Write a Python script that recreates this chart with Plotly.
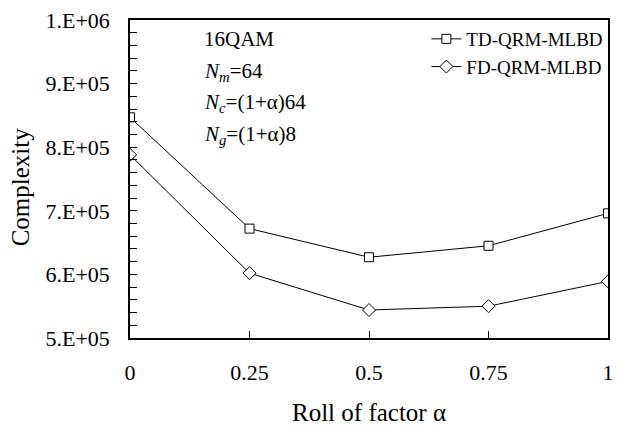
import plotly.graph_objects as go

alpha = [0, 0.25, 0.5, 0.75, 1]
x_ticktext = ["0", "0.25", "0.5", "0.75", "1"]
td_qrm = [847000, 672000, 627000, 645000, 696000]
fd_qrm = [788000, 602000, 544000, 550000, 589000]
y_tickvals = [500000, 600000, 700000, 800000, 900000, 1000000]
y_ticktext = ["5.E+05", "6.E+05", "7.E+05", "8.E+05", "9.E+05", "1.E+06"]

FONT = "Liberation Serif"
L, R, T, B = 130, 614, 18, 338
PW, PH = R - L, B - T

fig = go.Figure()
fig.add_trace(go.Scatter(
    x=alpha, y=td_qrm, mode="lines+markers", name="TD-QRM-MLBD",
    line=dict(color="black", width=1),
    marker=dict(symbol="square", size=9, color="white", line=dict(color="black", width=1)),
))
fig.add_trace(go.Scatter(
    x=alpha, y=fd_qrm, mode="lines+markers", name="FD-QRM-MLBD",
    line=dict(color="black", width=1),
    marker=dict(symbol="diamond", size=10, color="white", line=dict(color="black", width=1)),
))

notes = ["16QAM", "<i>N</i><sub><i>m</i></sub>=64", "<i>N</i><sub><i>c</i></sub>=(1+α)64",
         "<i>N</i><sub><i>g</i></sub>=(1+α)8"]
ys = [37, 70, 102, 134]
for t, yp in zip(notes, ys):
    fig.add_annotation(text=t, xref="paper", yref="paper", x=(203 - L) / PW,
                       y=1 - (yp - T) / PH, xanchor="left", yanchor="middle",
                       showarrow=False, font=dict(family=FONT, size=21, color="black"))

# axis titles as annotations for exact placement
fig.add_annotation(text="Roll of factor α", xref="paper", yref="paper",
                   x=(372 - L) / PW, y=1 - (413 - T) / PH, xanchor="center", yanchor="middle",
                   showarrow=False, font=dict(family=FONT, size=25, color="black"))
fig.add_annotation(text="Complexity", xref="paper", yref="paper", textangle=-90,
                   x=(20 - L) / PW, y=1 - (186 - T) / PH, xanchor="center", yanchor="middle",
                   showarrow=False, font=dict(family=FONT, size=25, color="black"))

fig.update_layout(
    width=622, height=426,
    margin=dict(l=L, r=622 - R, t=T, b=426 - B),
    paper_bgcolor="white", plot_bgcolor="white",
    font=dict(family=FONT, size=22, color="black"),
    showlegend=True,
    legend=dict(x=0.62, y=1.0, xanchor="left", yanchor="top",
                font=dict(family=FONT, size=19), bgcolor="rgba(0,0,0,0)",
                itemwidth=30, tracegroupgap=0),
    xaxis=dict(range=[0, 1], tickvals=alpha, ticktext=x_ticktext,
               showgrid=False, zeroline=False, showline=True, linecolor="black",
               linewidth=1.5, mirror=True, ticks="inside", ticklen=7,
               tickcolor="black", ticklabelstandoff=14,
               tickfont=dict(family=FONT, size=22)),
    yaxis=dict(range=[500000, 1000000], tickvals=y_tickvals, ticktext=y_ticktext,
               showgrid=False, zeroline=False, showline=True, linecolor="black",
               linewidth=1.5, mirror=True, ticks="inside", ticklen=7,
               tickcolor="black", ticklabelstandoff=14,
               tickfont=dict(family=FONT, size=22),
               minor=dict(dtick=20000, ticks="inside", ticklen=7, tickcolor="black", showgrid=False)),
)

fig.write_html("out.html")
